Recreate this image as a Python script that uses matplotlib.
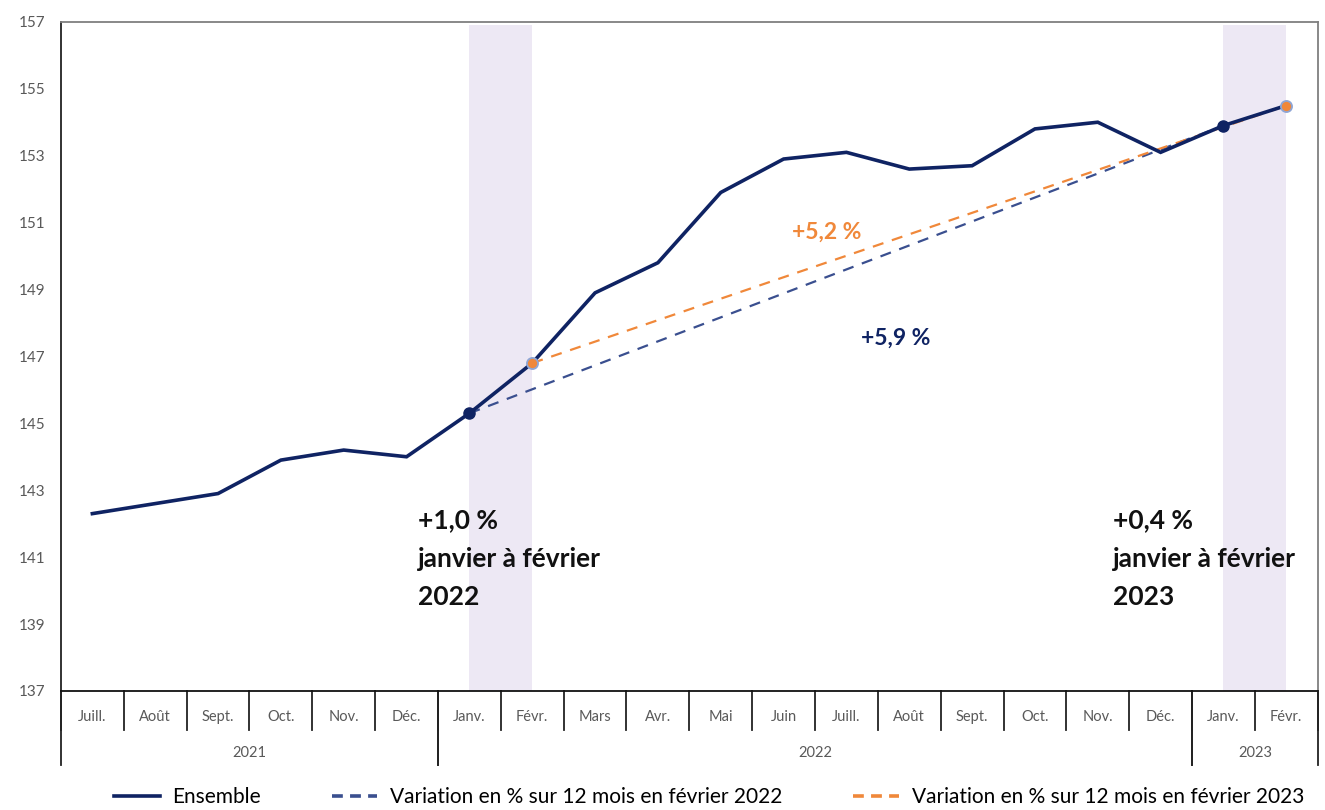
import matplotlib.pyplot as plt
from matplotlib.lines import Line2D

plt.rcParams['font.family'] = ['Lato', 'DejaVu Sans']

# mois (juillet 2021 -> février 2023)
months = ['Juill.', 'Août', 'Sept.', 'Oct.', 'Nov.', 'Déc.',
          'Janv.', 'Févr.', 'Mars', 'Avr.', 'Mai', 'Juin', 'Juill.', 'Août',
          'Sept.', 'Oct.', 'Nov.', 'Déc.', 'Janv.', 'Févr.']
years = ['2021', '2022', '2023']
year_spans = [(0, 5), (6, 17), (18, 19)]
ensemble = [142.3, 142.6, 142.9, 143.9, 144.2, 144.0,
            145.3, 146.8, 148.9, 149.8, 151.9, 152.9, 153.1, 152.6,
            152.7, 153.8, 154.0, 153.1, 153.9, 154.5]
yticks = [137, 139, 141, 143, 145, 147, 149, 151, 153, 155, 157]

# variations sur 12 mois : janv.22 -> janv.23 et févr.22 -> févr.23
var_2022 = (6, 18)
var_2023 = (7, 19)

navy = '#0f2363'
navy_dash = '#3a4f8f'
orange = '#f0883a'
band = '#ede8f4'
grey_txt = '#595959'

fig = plt.figure(figsize=(13.25, 8.1), dpi=100)
ax = fig.add_axes([0.046, 0.147, 0.9485, 0.826])

x = list(range(len(months)))

# bandes janvier -> février
ax.axvspan(6, 7, ymax=0.995, color=band, zorder=0, lw=0)
ax.axvspan(18, 19, ymax=0.995, color=band, zorder=0, lw=0)

ax.plot(x, ensemble, color=navy, lw=2.6, zorder=3, solid_joinstyle='miter')

i0, i1 = var_2022
ax.plot([i0, i1], [ensemble[i0], ensemble[i1]], color=navy_dash, lw=1.6,
        ls=(0, (5, 4)), zorder=2)
j0, j1 = var_2023
ax.plot([j0, j1], [ensemble[j0], ensemble[j1]], color=orange, lw=1.6,
        ls=(0, (5, 4)), zorder=2)

for i in var_2022:
    ax.plot(i, ensemble[i], 'o', color=navy, ms=8, zorder=4)
for j in var_2023:
    ax.plot(j, ensemble[j], 'o', color=orange, mec='#8ea6d6', mew=1.3,
            ms=8, zorder=4)

ax.set_xlim(-0.5, len(months) - 0.5)
ax.set_ylim(137, 157)
ax.set_yticks(yticks)
ax.tick_params(axis='y', length=0, pad=11, labelsize=11, labelcolor=grey_txt)
ax.set_xticks(x, months)
ax.tick_params(axis='x', length=0, pad=14, labelsize=10.5, labelcolor=grey_txt)

for s in ['top', 'right']:
    ax.spines[s].set_color('#7f7f7f')
    ax.spines[s].set_linewidth(1.3)
ax.spines['left'].set_color('#222222')
ax.spines['left'].set_linewidth(1.3)
ax.spines['bottom'].set_color('#111111')
ax.spines['bottom'].set_linewidth(1.3)

# axe des catégories à deux niveaux
tr = ax.get_xaxis_transform()
for k in range(len(months) + 1):
    xs = k - 0.5
    ax.plot([xs, xs], [0, -0.058], transform=tr, color='#222222', lw=1.3,
            clip_on=False)
for (a, b), yr in zip(year_spans, years):
    for xs in (a - 0.5, b + 0.5):
        ax.plot([xs, xs], [0, -0.111], transform=tr, color='#222222', lw=1.3,
                clip_on=False)
    ax.text((a + b) / 2, -0.093, yr, transform=tr, ha='center', va='center',
            fontsize=10.5, color=grey_txt)

# annotations
ax.text(11.69, 150.7, '+5,2 %', color=orange, fontsize=16.5,
        fontweight='bold', ha='center', va='center')
ax.text(12.79, 147.55, '+5,9 %', color=navy, fontsize=16.5,
        fontweight='bold', ha='center', va='center')
ax.text(5.18, 142.45, '+1,0 %\njanvier à février\n2022', color='#111111',
        fontsize=19, fontweight='bold', ha='left', va='top',
        linespacing=1.72)
ax.text(16.24, 142.45, '+0,4 %\njanvier à février\n2023', color='#111111',
        fontsize=19, fontweight='bold', ha='left', va='top',
        linespacing=1.72)

handles = [
    Line2D([], [], color=navy, lw=2.6),
    Line2D([], [], color=navy_dash, lw=2.6, ls=(0, (3, 2))),
    Line2D([], [], color=orange, lw=2.6, ls=(0, (3, 2))),
]
labels = ['Ensemble', 'Variation en % sur 12 mois en février 2022',
          'Variation en % sur 12 mois en février 2023']
fig.legend(handles, labels, loc='center', bbox_to_anchor=(0.535, 0.016),
           ncol=3, frameon=False, fontsize=15, handlelength=2.2,
           handletextpad=0.6, columnspacing=3.4)

fig.savefig('out.png', dpi=100)
